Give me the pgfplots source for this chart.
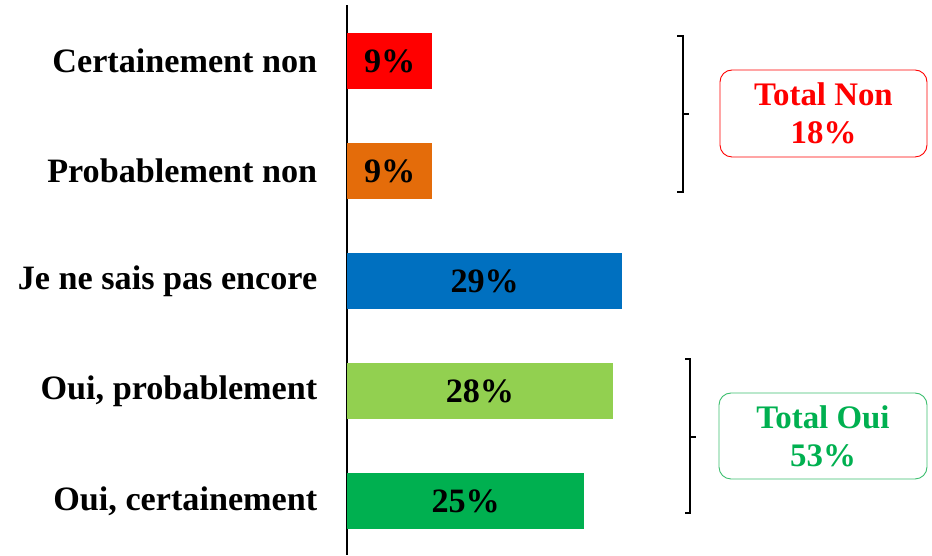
\documentclass[border=0pt]{standalone}
\usepackage{fontspec}
\setmainfont{Liberation Serif}
\usepackage{pgfplots}
\pgfplotsset{compat=1.18}
\definecolor{cred}{RGB}{255,0,0}
\definecolor{corange}{RGB}{228,108,10}
\definecolor{cblue}{RGB}{0,112,192}
\definecolor{clgreen}{RGB}{146,208,80}
\definecolor{cgreen}{RGB}{0,176,80}
\definecolor{cboxgreen}{RGB}{60,190,110}
\newcommand{\bigfont}{\fontsize{34.3}{38}\selectfont\bfseries}
\begin{document}
\begin{tikzpicture}
\begin{axis}[
  scale only axis, width=585bp, height=550bp,
  xmin=0, xmax=61.58, ymin=-0.49, ymax=4.51,
  axis x line=none, axis y line*=left,
  axis line style={line width=1.5bp, black, -},
  ytick={0,1,2,3,4},
  yticklabels={{Oui, certainement},{Oui, probablement},{Je ne sais pas encore},{Probablement non},{Certainement non}},
  ytick style={draw=none},
  yticklabel style={font=\bigfont, xshift=-22bp},
  xbar, bar width=56bp, bar shift=0pt,
  clip=false,
  /pgf/number format/assume math mode=true,
  visualization depends on={rawx \as \rawx},
  nodes near coords={\pgfmathprintnumber{\rawx}\%},
  every node near coord/.append style={anchor=center, font=\bigfont, text=black, shift={(axis direction cs:-\rawx/2,0)}},
]
\addplot[fill=cgreen, draw=none] coordinates {(25,0)};
\addplot[fill=clgreen, draw=none] coordinates {(28,1)};
\addplot[fill=cblue, draw=none] coordinates {(29,2)};
\addplot[fill=corange, draw=none] coordinates {(9,3)};
\addplot[fill=cred, draw=none] coordinates {(9,4)};
\end{axis}
\begin{scope}[shift={(current axis.south west)}, x=1bp, y=1bp]
  \path (-347,0) rectangle (585,555);
  % Non bracket
  \draw[line width=2bp] (330,519) -- (336,519) -- (336,363) -- (330,363);
  \draw[line width=2bp] (336,441) -- (342,441);
  % Oui bracket
  \draw[line width=2bp] (338,196) -- (343,196) -- (343,42) -- (338,42);
  \draw[line width=2bp] (343,118) -- (349,118);
  % boxes
  \draw[cred, line width=0.9bp, rounded corners=12bp] (373,398) rectangle (580,485);
  \node[cred, align=center, font=\fontsize{33}{38}\selectfont\bfseries] at (476.5,441.5) {Total Non\\18\%};
  \draw[cboxgreen, line width=0.9bp, rounded corners=12bp] (372,76) rectangle (580,162);
  \node[cgreen, align=center, font=\fontsize{33}{38}\selectfont\bfseries] at (476,119) {Total Oui\\53\%};
\end{scope}
\end{tikzpicture}
\end{document}
